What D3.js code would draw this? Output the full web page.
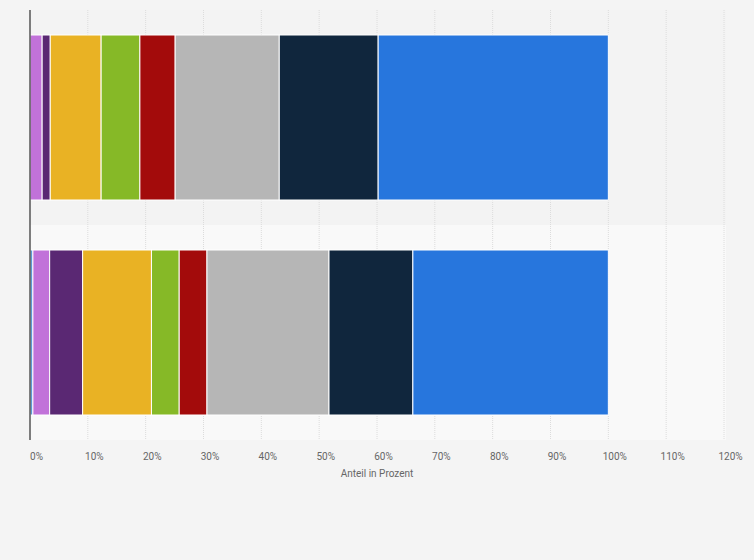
<!DOCTYPE html>
<html>
<head>
<meta charset="utf-8">
<script src="https://cdn.jsdelivr.net/npm/d3@7"></script>
<style>
  body { margin: 0; background: #f4f4f4; font-family: "Roboto", "Liberation Sans", sans-serif; }
</style>
</head>
<body>
<div id="chart"></div>
<script>
var svgWidth = 754;
var svgHeight = 560;

var margin = { top: 10, right: 28, bottom: 120, left: 30 };
var width = svgWidth - margin.left - margin.right;
var height = svgHeight - margin.top - margin.bottom;

// data
var categories = ["A", "B"];
var seriesNames = ["s1", "s2", "s3", "s4", "s5", "s6", "s7", "s8", "s9"];
var colors = ["#5b9bd5", "#c172d9", "#5a2873", "#e9b224", "#86b927", "#a30b0b", "#b6b6b6", "#10263d", "#2776dd"];
var valuesA = [0, 2.1, 1.4, 8.8, 6.7, 6.1, 18.0, 17.1, 39.8];
var valuesB = [0.5, 2.9, 5.7, 11.9, 4.8, 4.8, 21.1, 14.5, 33.8];
var tickValues = [0, 10, 20, 30, 40, 50, 60, 70, 80, 90, 100, 110, 120];

var svg = d3.select("#chart").append("svg")
  .attr("width", svgWidth)
  .attr("height", svgHeight);

var chartGroup = svg.append("g")
  .attr("transform", `translate(${margin.left}, ${margin.top})`);

var x = d3.scaleLinear().domain([0, 120]).range([0, 694]);
var y = d3.scaleBand().domain(categories).range([0, height]).paddingInner(0).paddingOuter(0);

// alternating row bands
chartGroup.selectAll("rect.band")
  .data(categories)
  .enter()
  .append("rect")
  .attr("x", 0)
  .attr("y", d => y(d))
  .attr("width", width)
  .attr("height", y.bandwidth())
  .attr("fill", (d, i) => i === 0 ? "#f3f3f3" : "#f9f9f9");

// grid lines
chartGroup.selectAll("line.grid")
  .data(tickValues.slice(1))
  .enter()
  .append("line")
  .attr("x1", d => x(d))
  .attr("x2", d => x(d))
  .attr("y1", 0)
  .attr("y2", height)
  .attr("stroke", "#dcdcdc")
  .attr("stroke-dasharray", "1,1");

// stacked bars
var rows = [valuesA, valuesB];
var barPad = 25;
rows.forEach(function(vals, i) {
  var cum = 0;
  vals.forEach(function(v, j) {
    if (v > 0) {
      chartGroup.append("rect")
        .attr("x", x(cum))
        .attr("y", y(categories[i]) + barPad)
        .attr("width", x(v) - x(0))
        .attr("height", y.bandwidth() - barPad * 2)
        .attr("fill", colors[j])
        .attr("stroke", "#ffffff")
        .attr("stroke-width", 1);
    }
    cum += v;
  });
});

// y axis line
chartGroup.append("line")
  .attr("x1", 0).attr("x2", 0)
  .attr("y1", 0).attr("y2", height)
  .attr("stroke", "#555")
  .attr("stroke-width", 1.5);

// x axis
var bottomAxis = d3.axisBottom(x).tickValues(tickValues).tickSize(0).tickFormat(d => d + "%");
var xAxis = chartGroup.append("g")
  .attr("transform", `translate(0, ${height})`)
  .call(bottomAxis);
xAxis.select(".domain").remove();
xAxis.selectAll("text")
  .attr("dy", "1.7em")
  .attr("dx", "0.6em")
  .attr("fill", "#666")
  .style("font-size", "10px")
  .style("font-family", "Roboto, sans-serif");

chartGroup.append("text")
  .attr("x", 347)
  .attr("y", height + 37)
  .attr("text-anchor", "middle")
  .attr("fill", "#666")
  .style("font-size", "10px")
  .text("Anteil in Prozent");
</script>
</body>
</html>
